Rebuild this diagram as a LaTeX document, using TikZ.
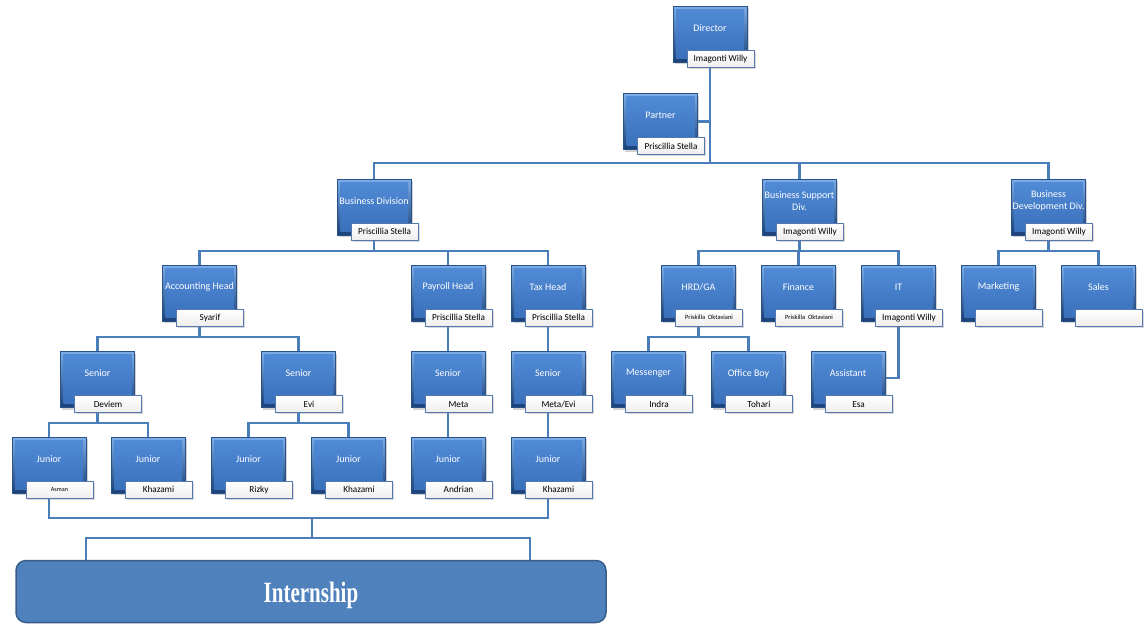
\documentclass[tikz,border=0pt]{standalone}
\usepackage{fontspec}
\setmainfont{Carlito}
\newfontfamily\timesfont{Liberation Serif}
\usetikzlibrary{shadows,backgrounds,calc}
\definecolor{connc}{RGB}{74,126,187}
\definecolor{bevlight}{RGB}{125,172,230}
\definecolor{bevdark}{RGB}{26,64,118}
\definecolor{facetop}{RGB}{82,140,214}
\definecolor{facebot}{RGB}{56,110,186}
\definecolor{boxedge}{RGB}{40,82,140}
\definecolor{lbledge}{RGB}{84,120,175}
\definecolor{intfill}{RGB}{79,129,189}
\definecolor{intedge}{RGB}{56,93,138}
\tikzset{
  orgbox/.style={rectangle, minimum width=74pt, minimum height=56pt, inner sep=0pt,
    top color=bevlight, bottom color=bevdark, draw=boxedge, line width=0.5pt,
    drop shadow={opacity=0.35, shadow xshift=1.5pt, shadow yshift=-2pt},
    path picture={\shade[top color=facetop, bottom color=facebot]
      ([shift={(3pt,-3pt)}]path picture bounding box.north west) rectangle
      ([shift={(-3pt,4pt)}]path picture bounding box.south east);}},
  orgtitle/.style={text=white, font=\fontsize{10}{11.5}\selectfont, align=center, inner sep=0pt},
  orglbl/.style={rectangle, minimum width=67pt, minimum height=17pt, inner sep=0pt,
    top color=white, bottom color=gray!14, draw=lbledge, line width=0.9pt,
    font=\fontsize{9.2}{10}\selectfont,
    drop shadow={opacity=0.3, shadow xshift=1.5pt, shadow yshift=-1.5pt}},
  link/.style={draw=connc, line width=2.6pt},
  intbox/.style={draw=intedge, fill=intfill, line width=1.5pt, rounded corners=10pt,
    minimum width=590pt, minimum height=62pt, inner sep=0pt},
  inttext/.style={text=white, inner sep=0pt, font=\timesfont\bfseries\fontsize{21}{24}\selectfont},
  smalllbl/.style={font=\fontsize{6.5}{7}\selectfont},
  tinylbl/.style={font=\fontsize{6.2}{7}\selectfont}
}
\newcommand\orgunit[6]{%
  \node[orgbox] (#1) at (#2,#3) {};
  \node[orgtitle] (#1t) at ([yshift=6pt]#1.center) {#4};
  \node[orglbl,#6] (#1l) at ([xshift=10.5pt, yshift=3.5pt]#1.south) {#5};
}
\begin{document}
\begin{tikzpicture}[x=1pt,y=-1pt]
% level 1-2
\orgunit{dir}{710}{34}{Director}{Imagonti Willy}{}
\orgunit{partner}{660.5}{121.5}{Partner}{Priscillia Stella}{}
\orgunit{bd}{374}{207}{Business Division}{Priscillia Stella}{}
\orgunit{bs}{799.5}{207}{Business Support\\Div.}{Imagonti Willy}{}
\orgunit{bdev}{1048.5}{207}{Business\\Development Div.}{Imagonti Willy}{}
% level 3
\orgunit{acc}{199.5}{293}{Accounting Head}{Syarif}{}
\orgunit{pay}{448}{293}{Payroll Head}{Priscillia Stella}{}
\orgunit{tax}{548}{293}{Tax Head}{Priscillia Stella}{}
\orgunit{hrd}{698.5}{293}{HRD/GA}{Priskilla\ \ Oktaviani}{smalllbl}
\orgunit{fin}{798.5}{293}{Finance}{Priskilla\ \ Oktaviani}{smalllbl}
\orgunit{it}{898.5}{293}{IT}{Imagonti Willy}{}
\orgunit{mkt}{998.5}{293}{Marketing}{}{}
\orgunit{sales}{1098.5}{293}{Sales}{}{}
% level 4
\orgunit{sen1}{97.5}{379.5}{Senior}{Deviem}{}
\orgunit{sen2}{298.5}{379.5}{Senior}{Evi}{}
\orgunit{sen3}{448}{379.5}{Senior}{Meta}{}
\orgunit{sen4}{548}{379.5}{Senior}{Meta/Evi}{}
\orgunit{msg}{648.5}{379.5}{Messenger}{Indra}{}
\orgunit{ob}{748.5}{379.5}{Office Boy}{Tohari}{}
\orgunit{asst}{848}{379.5}{Assistant}{Esa}{}
% level 5
\orgunit{jun1}{49}{465}{Junior}{Asman}{tinylbl}
\orgunit{jun2}{148}{465}{Junior}{Khazami}{}
\orgunit{jun3}{248.5}{465}{Junior}{Rizky}{}
\orgunit{jun4}{348.5}{465}{Junior}{Khazami}{}
\orgunit{jun5}{448}{465}{Junior}{Andrian}{}
\orgunit{jun6}{548}{465}{Junior}{Khazami}{}
% internship
\node[intbox] (intern) at (311,591.5) {};
\node[inttext] (interntxt) at ([yshift=-4pt]intern.center) {\scalebox{1}[1.4]{Internship}};
% helper coordinates
\coordinate (j0) at (710,163);
\coordinate (y3) at (0,251);
\coordinate (y4) at (0,337);
\coordinate (y5) at (0,423);
\coordinate (y6) at (0,518);
\coordinate (j6) at (312,518);
\coordinate (j7) at (312,538);
\coordinate (dl) at (86,0);
\coordinate (dr) at (530,0);
\begin{pgfonlayer}{background}
\path[use as bounding box, fill=white] (0,0) rectangle (1146,625);
% top
\draw[link] (dir.south) -- (j0);
\draw[link] (partner.east) -- (partner.east -| dir.south);
\draw[link] (bd.north) |- (j0) -| (bdev.north);
\draw[link] (bs.north) -- (bs.north |- j0);
% level 3
\draw[link] (bd.south) -- (bd.south |- y3);
\draw[link] (acc.north) |- (tax.north |- y3) -- (tax.north);
\draw[link] (pay.north) -- (pay.north |- y3);
\draw[link] (bs.south) -- (bs.south |- y3);
\draw[link] (hrd.north) |- (it.north |- y3) -- (it.north);
\draw[link] (fin.north) -- (fin.north |- y3);
\draw[link] (bdev.south) -- (bdev.south |- y3);
\draw[link] (mkt.north) |- (sales.north |- y3) -- (sales.north);
% level 4
\draw[link] (acc.south) -- (acc.south |- y4);
\draw[link] (sen1.north) |- (sen2.north |- y4) -- (sen2.north);
\draw[link] (pay.south) -- (sen3.north);
\draw[link] (tax.south) -- (sen4.north);
\draw[link] (hrd.south) -- (hrd.south |- y4);
\draw[link] (msg.north) |- (ob.north |- y4) -- (ob.north);
\draw[link] (it.south) |- ([yshift=1.5pt]asst.east);
% level 5
\draw[link] (sen1.south) -- (sen1.south |- y5);
\draw[link] (jun1.north) |- (jun2.north |- y5) -- (jun2.north);
\draw[link] (sen2.south) -- (sen2.south |- y5);
\draw[link] (jun3.north) |- (jun4.north |- y5) -- (jun4.north);
\draw[link] (sen3.south) -- (jun5.north);
\draw[link] (sen4.south) -- (jun6.north);
% bottom
\draw[link] (jun1.south) |- (jun6.south |- y6) -- (jun6.south);
\draw[link] (j6) -- (j7);
\draw[link] (intern.north -| dl) |- (dr |- j7) -- (intern.north -| dr);
\end{pgfonlayer}
\end{tikzpicture}
\end{document}
